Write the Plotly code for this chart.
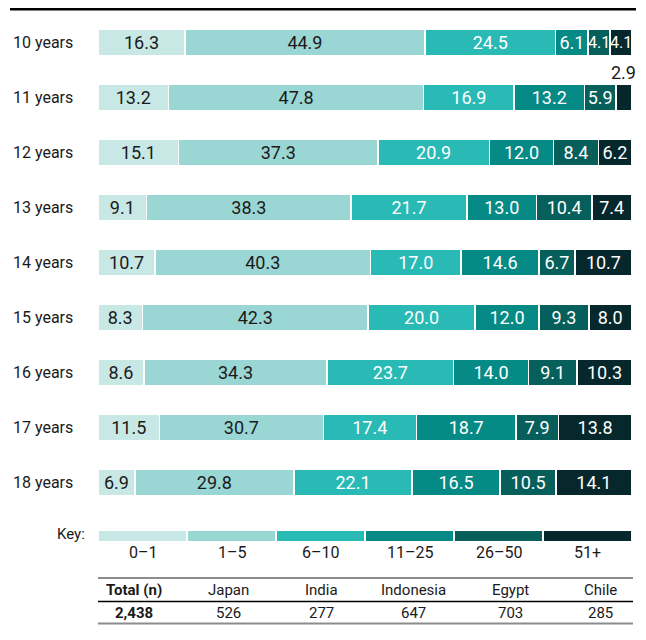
import plotly.graph_objects as go

# --- data ---
ages = ["10 years", "11 years", "12 years", "13 years", "14 years",
        "15 years", "16 years", "17 years", "18 years"]
bins = ["0–1", "1–5", "6–10", "11–25", "26–50", "51+"]

share_0_1 = [16.3, 13.2, 15.1, 9.1, 10.7, 8.3, 8.6, 11.5, 6.9]
share_1_5 = [44.9, 47.8, 37.3, 38.3, 40.3, 42.3, 34.3, 30.7, 29.8]
share_6_10 = [24.5, 16.9, 20.9, 21.7, 17.0, 20.0, 23.7, 17.4, 22.1]
share_11_25 = [6.1, 13.2, 12.0, 13.0, 14.6, 12.0, 14.0, 18.7, 16.5]
share_26_50 = [4.1, 5.9, 8.4, 10.4, 6.7, 9.3, 9.1, 7.9, 10.5]
share_51_plus = [4.1, 2.9, 6.2, 7.4, 10.7, 8.0, 10.3, 13.8, 14.1]

countries = ["Japan", "India", "Indonesia", "Egypt", "Chile"]
country_n = [526, 277, 647, 703, 285]

series = [share_0_1, share_1_5, share_6_10, share_11_25, share_26_50, share_51_plus]
colors = ["#c8e8e6", "#9ad6d3", "#2abab6", "#068a86", "#075f5c", "#06282c"]
text_colors = ["#1a1a1a", "#1a1a1a", "white", "white", "white", "white"]

FONT = "Roboto, sans-serif"
INK = "#1a1a1a"

# the page has an 8px body margin, so the figure is drawn from (8, 8);
# the helpers below take page pixels and give paper fractions
OFF = 8
W, H = 630, 624
L, R, T, B = 90, 6, 7, 2
PW, PH = W - L - R, H - T - B


def px_x(x):
    return (x - OFF - L) / PW


def px_y(y):
    return (H - B - (y - OFF)) / PH


fig = go.Figure()

annotations = []
bases = [0.0] * len(ages)
for vals, name, col, tcol in zip(series, bins, colors, text_colors):
    labels, sizes = [], []
    for i, (age, v) in enumerate(zip(ages, vals)):
        if v < 3.5:
            # too narrow: print the value above the bar
            labels.append("")
            annotations.append(dict(
                x=bases[i] + v / 2, y=age, xref="x", yref="y", text=f"{v:.1f}",
                showarrow=False, yshift=25, xanchor="center", yanchor="middle",
                font=dict(family=FONT, size=18, color=INK),
            ))
        else:
            labels.append(f"{v:.1f}")
        # slim segments get a slightly smaller label so it fits
        sizes.append(16 if v < 5 else 18)
        bases[i] += v
    fig.add_trace(go.Bar(
        x=vals, y=ages, orientation="h", name=name,
        width=26 / 55,
        marker=dict(color=col, line=dict(color="white", width=1.5)),
        text=labels, textposition="inside", insidetextanchor="middle",
        textangle=0, constraintext="none",
        textfont=dict(family=FONT, size=sizes, color=tcol),
        hoverinfo="skip", showlegend=False,
    ))

# key bar
for name, col in zip(bins, colors):
    fig.add_trace(go.Bar(
        x=[1], y=[0], orientation="h", xaxis="x2", yaxis="y2", width=1,
        marker=dict(color=col, line=dict(color="white", width=1.5)),
        hoverinfo="skip", showlegend=False,
    ))
    annotations.append(dict(
        x=bins.index(name) + 0.5, y=px_y(552), xref="x2", yref="paper", text=name,
        showarrow=False, xanchor="center", yanchor="middle",
        font=dict(family=FONT, size=16, color=INK),
    ))

# row labels
for age in ages:
    annotations.append(dict(
        x=px_x(11), y=age, xref="paper", yref="y", text=age,
        xanchor="left", yanchor="middle",
        showarrow=False, font=dict(family=FONT, size=16, color=INK),
    ))

annotations.append(dict(
    x=px_x(87), y=px_y(534), xref="paper", yref="paper", text="Key:",
    xanchor="right", yanchor="middle", showarrow=False,
    font=dict(family=FONT, size=15, color=INK),
))

# table
col_px = [134, 228, 321, 413, 510, 600]
headers = ["<b>Total (n)</b>"] + countries
values = [f"<b>{sum(country_n):,}</b>"] + [f"{n:,}" for n in country_n]
for cx, h, v in zip(col_px, headers, values):
    annotations.append(dict(x=px_x(cx), y=px_y(590), xref="paper", yref="paper", text=h,
                            xanchor="center", yanchor="middle", showarrow=False,
                            font=dict(family=FONT, size=15, color=INK)))
    annotations.append(dict(x=px_x(cx), y=px_y(613), xref="paper", yref="paper", text=v,
                            xanchor="center", yanchor="middle", showarrow=False,
                            font=dict(family=FONT, size=15, color=INK)))

shapes = [
    # top rule, as high as the page margin allows
    dict(type="line", xref="paper", yref="paper", x0=px_x(10), x1=px_x(636),
         y0=px_y(9.3), y1=px_y(9.3), line=dict(color="black", width=2.5)),
    dict(type="line", xref="paper", yref="paper", x0=px_x(98), x1=px_x(633),
         y0=px_y(578), y1=px_y(578), line=dict(color="#8c8c8c", width=2)),
    dict(type="line", xref="paper", yref="paper", x0=px_x(98), x1=px_x(633),
         y0=px_y(601.5), y1=px_y(601.5), line=dict(color="black", width=1.5)),
    dict(type="line", xref="paper", yref="paper", x0=px_x(98), x1=px_x(633),
         y0=px_y(623.5), y1=px_y(623.5), line=dict(color="#8c8c8c", width=2)),
]

fig.update_layout(
    width=W, height=H,
    margin=dict(l=L, r=R, t=T, b=B),
    barmode="stack",
    plot_bgcolor="white", paper_bgcolor="white",
    font=dict(family=FONT, color=INK),
    xaxis=dict(range=[0, 100], domain=[0, 1], visible=False, fixedrange=True),
    yaxis=dict(categoryorder="array", categoryarray=ages,
               domain=[px_y(510), px_y(15)], range=[8.5, -0.5], visible=False),
    xaxis2=dict(range=[0, len(bins)], domain=[0, 1], anchor="y2", visible=False),
    yaxis2=dict(range=[-0.5, 0.5], domain=[px_y(542), px_y(530)], visible=False),
    annotations=annotations,
    shapes=shapes,
    uniformtext=dict(minsize=16, mode="show"),
)

fig.write_html("out.html")
